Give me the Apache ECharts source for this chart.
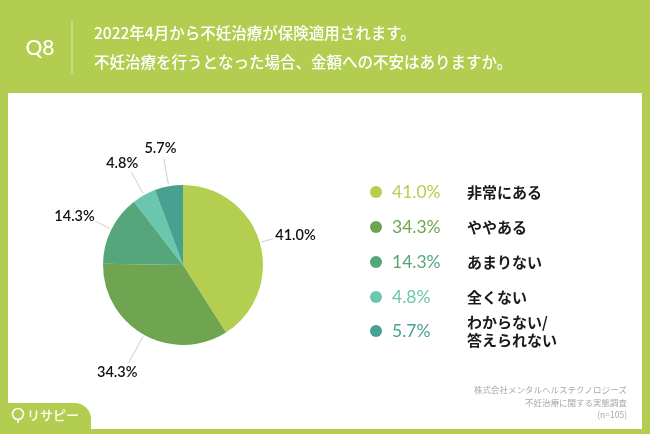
<!DOCTYPE html>
<html><head><meta charset="utf-8">
<script src="https://cdn.jsdelivr.net/npm/echarts@6/dist/echarts.min.js"></script>
<style>html,body{margin:0;padding:0;background:#b3cd50;}#c{width:650px;height:434px;}</style>
</head><body><div id="c"></div>
<script>
const categories = ['非常にある', 'ややある', 'あまりない', '全くない', 'わからない/\n答えられない'];
const values = [41.0, 34.3, 14.3, 4.8, 5.7];
const colors = ['#b4cf4f', '#6fa550', '#55a67b', '#6bc6ae', '#48a190'];
const labelLineLengths = [14, 32, 18, 26, 28];
const titleLines = ['2022年4月から不妊治療が保険適用されます。', '不妊治療を行うとなった場合、金額への不安はありますか。'];
const sourceLines = ['株式会社メンタルヘルステクノロジーズ', '不妊治療に関する実態調査', '(n=105)'];

const chart = echarts.init(document.getElementById('c'));
const green = '#b3cd50';
const jp = '"Noto Sans CJK JP", "Noto Sans", sans-serif';
const num = 'Lato, "Noto Sans", sans-serif';

const graphics = [
  {type:'rect', shape:{x:0,y:0,width:650,height:434}, style:{fill:green}, z:-10},
  {type:'rect', shape:{x:8,y:93,width:634,height:336}, style:{fill:'#ffffff'}, z:-9},
  {type:'text', x:40, y:48, style:{text:'Q8', fill:'#fff', font:'500 21px '+num, textAlign:'center', textVerticalAlign:'middle'}},
  {type:'line', shape:{x1:72,y1:20,x2:72,y2:74}, style:{stroke:'rgba(255,255,255,0.55)', lineWidth:1}},
  {type:'rect', shape:{x:0,y:403,width:91,height:31,r:[0,16,0,0]}, style:{fill:green}},
  {type:'circle', shape:{cx:18,cy:414,r:5.5}, style:{fill:'none', stroke:'#fff', lineWidth:1.6}},
  {type:'line', shape:{x1:18,y1:419,x2:18,y2:423}, style:{stroke:'#fff', lineWidth:1.6}},
  {type:'text', x:27, y:415, style:{text:'リサピー', fill:'#fff', font:'500 13px '+jp, textVerticalAlign:'middle'}}
];
titleLines.forEach((t,i)=>graphics.push({type:'text', x:94, y:33+i*29, style:{text:t, fill:'#fff', font:'500 15.5px '+jp, textVerticalAlign:'middle'}}));
sourceLines.forEach((t,i)=>graphics.push({type:'text', x:627, y:390+i*12.5, style:{text:t, fill:'#a8a8a8', font:'8.5px '+jp, textAlign:'right', textVerticalAlign:'middle'}}));
const rowY = [192, 227, 262, 297, 331];
categories.forEach((c,i)=>{
  graphics.push({type:'circle', shape:{cx:376, cy:rowY[i], r:6}, style:{fill:colors[i]}});
  graphics.push({type:'text', x:392, y:rowY[i], style:{text:values[i].toFixed(1)+'%', fill:colors[i], font:'17.5px '+num, textVerticalAlign:'middle'}});
  graphics.push({type:'text', x:467, y:rowY[i], style:{text:c, fill:'#1a1a1a', font:'bold 15px '+jp, textVerticalAlign:'middle', lineHeight:18}});
});

chart.setOption({
  animation:false,
  graphic: graphics,
  series:[{
    type:'pie',
    center:[183,265],
    radius:80,
    startAngle:90,
    clockwise:true,
    avoidLabelOverlap:false,
    data: categories.map((c,i)=>({name:c, value:values[i], itemStyle:{color:colors[i]}})),
    label:{show:true, formatter:p=>p.value.toFixed(1)+'%', color:'#111', fontSize:14.5, fontFamily:num, fontWeight:600},
    labelLine:{show:true, length:12, length2:6, lineStyle:{color:'#cfcfcf', width:1}},
    labelLayout:function(p){
      const pts = p.labelLinePoints;
      if(!pts) return {};
      const p0 = pts[0], p1 = pts[1];
      let dx = p1[0]-p0[0], dy = p1[1]-p0[1];
      const len = Math.hypot(dx,dy) || 1; dx/=len; dy/=len;
      const L = labelLineLengths[p.dataIndex];
      const s = [p0[0]+dx*2, p0[1]+dy*2];
      const e = [p0[0]+dx*L, p0[1]+dy*L];
      const w = p.labelRect.width, h = p.labelRect.height;
      return {
        x: e[0] + dx*(w/2+3),
        y: e[1] + dy*(h/2+3),
        align:'center', verticalAlign:'middle',
        labelLinePoints:[s, e, e]
      };
    },
    itemStyle:{borderWidth:0},
    emphasis:{disabled:true}
  }]
});
</script></body></html>
